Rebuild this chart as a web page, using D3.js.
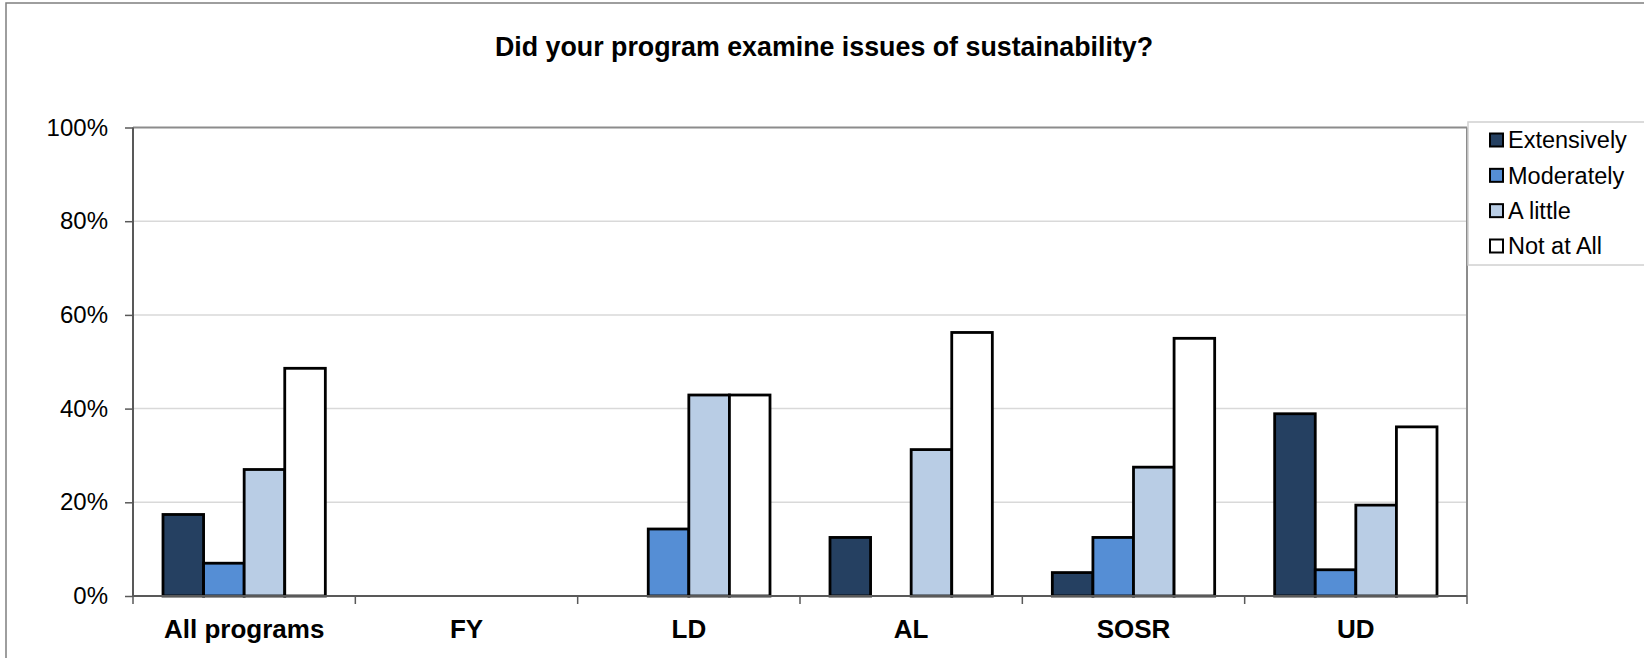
<!DOCTYPE html>
<html>
<head>
<meta charset="utf-8">
<script src="https://cdn.jsdelivr.net/npm/d3@7"></script>
<style>
  html, body { margin: 0; padding: 0; background: #fff; }
  svg { display: block; font-family: Arial, "Liberation Sans", sans-serif; }
</style>
</head>
<body>
<svg id="chart" width="1644" height="658"></svg>
<script>
const title = "Did your program examine issues of sustainability?";
const categories = ["All programs", "FY", "LD", "AL", "SOSR", "UD"];
const seriesNames = ["Extensively", "Moderately", "A little", "Not at All"];
const extensively = [17.4, 0, 0, 12.5, 5.0, 38.9];
const moderately  = [7.0, 0, 14.3, 0, 12.5, 5.6];
const aLittle     = [27.0, 0, 42.9, 31.25, 27.5, 19.4];
const notAtAll    = [48.6, 0, 42.9, 56.25, 55.0, 36.1];
const yTicks = [0, 20, 40, 60, 80, 100];
const colors = ["#254061", "#558ED5", "#B9CDE5", "#FFFFFF"];

(function () {
const seriesValues = [extensively, moderately, aLittle, notAtAll];

const svg = d3.select("#chart");
const W = 1644, H = 658;

// outer chart border
svg.append("rect").attr("x", 6).attr("y", 3).attr("width", W + 10).attr("height", H + 10)
  .attr("fill", "#fff").attr("stroke", "#7f7f7f").attr("stroke-width", 1.5);

const pLeft = 133, pRight = 1467, pTop = 127.5, pBottom = 596;

const x = d3.scaleBand().domain(categories).range([pLeft, pRight]).paddingInner(0).paddingOuter(0);
const gap = 30;
const xs = d3.scaleBand().domain(seriesNames).range([gap, x.bandwidth() - gap]).padding(0);
const y = d3.scaleLinear().domain([0, 100]).range([pBottom, pTop]);

// gridlines
svg.append("g").selectAll("line").data(yTicks.filter(t => t > 0 && t < 100)).join("line")
  .attr("x1", pLeft).attr("x2", pRight)
  .attr("y1", d => y(d)).attr("y2", d => y(d))
  .attr("stroke", "#d9d9d9").attr("stroke-width", 1.5);

// plot border top/right
svg.append("line").attr("x1", pLeft).attr("x2", pRight).attr("y1", pTop).attr("y2", pTop)
  .attr("stroke", "#8c8c8c").attr("stroke-width", 2);
svg.append("line").attr("x1", pRight).attr("x2", pRight).attr("y1", pTop).attr("y2", pBottom)
  .attr("stroke", "#8c8c8c").attr("stroke-width", 2);

// bars
const barData = [];
categories.forEach((c, i) => {
  seriesNames.forEach((s, j) => {
    barData.push({ c, s, j, v: seriesValues[j][i] });
  });
});
svg.append("g").selectAll("rect").data(barData.filter(d => d.v > 0)).join("rect")
  .attr("x", d => x(d.c) + xs(d.s))
  .attr("width", xs.bandwidth())
  .attr("y", d => y(d.v))
  .attr("height", d => y(0) - y(d.v))
  .attr("fill", d => colors[d.j])
  .attr("stroke", "#000").attr("stroke-width", 2.8);

// y axis
const yAxis = d3.axisLeft(y).tickValues(yTicks).tickFormat(d => d + "%").tickSize(8).tickPadding(17);
const gy = svg.append("g").attr("transform", `translate(${pLeft},0)`).call(yAxis);
gy.select(".domain").attr("stroke", "#595959").attr("stroke-width", 2).attr("d", `M0,${pTop}V${pBottom}`);
gy.selectAll(".tick line").attr("stroke", "#595959").attr("stroke-width", 1.5);
gy.selectAll(".tick text").attr("font-size", 24).attr("fill", "#000")
  .attr("font-family", "Arial, 'Liberation Sans', sans-serif");

// x axis
const xAxis = d3.axisBottom(x).tickSize(0).tickPadding(24);
const gx = svg.append("g").attr("transform", `translate(0,${pBottom})`).call(xAxis);
gx.select(".domain").attr("stroke", "#595959").attr("stroke-width", 2).attr("d", `M${pLeft},0H${pRight}`);
gx.selectAll(".tick text").attr("font-size", 26).attr("font-weight", "bold").attr("fill", "#000")
  .attr("font-family", "Arial, 'Liberation Sans', sans-serif");
// category boundary ticks
const bounds = categories.map(c => x(c)).concat([pRight]);
gx.append("g").selectAll("line").data(bounds).join("line")
  .attr("x1", d => d).attr("x2", d => d).attr("y1", 0).attr("y2", 8)
  .attr("stroke", "#595959").attr("stroke-width", 1.5);

// title
svg.append("text").attr("x", 824).attr("y", 56).attr("text-anchor", "middle")
  .attr("font-size", 26.8).attr("font-weight", "bold").text(title);

// legend
const lg = svg.append("g");
lg.append("rect").attr("x", 1468).attr("y", 122).attr("width", 200).attr("height", 143)
  .attr("fill", "#fff").attr("stroke", "#d0d0d0").attr("stroke-width", 1.5);
const rowY = d3.scalePoint().domain(seriesNames).range([140, 246]);
const items = lg.selectAll("g.item").data(seriesNames).join("g").attr("class", "item")
  .attr("transform", d => `translate(1490,${rowY(d)})`);
items.append("rect").attr("x", 0).attr("y", -6.5).attr("width", 13).attr("height", 13)
  .attr("fill", (d, i) => colors[i]).attr("stroke", "#000").attr("stroke-width", 2);
items.append("text").attr("x", 18).attr("y", 0).attr("dy", "0.36em")
  .attr("font-size", 23.5).attr("fill", "#000").text(d => d);
})();
</script>
</body>
</html>
